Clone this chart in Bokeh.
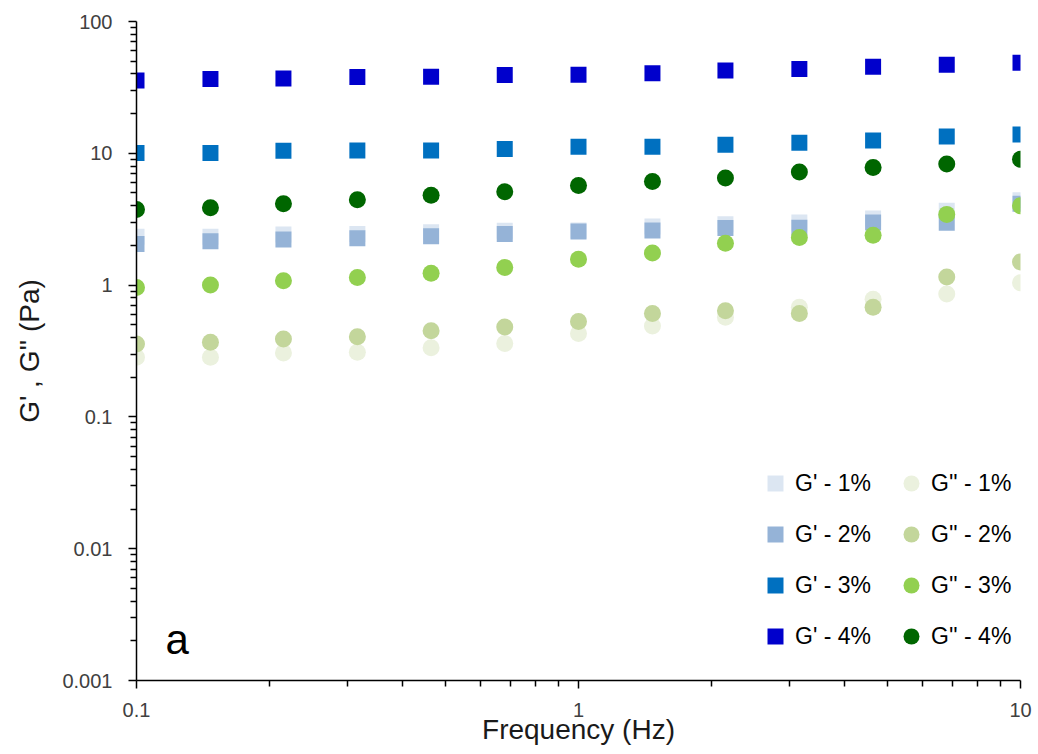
from bokeh.plotting import figure
from bokeh.models import (Range1d, FixedTicker, CustomJSTickFormatter, Legend,
                          LegendItem, Label, ColumnDataSource)
from bokeh.embed import file_html
from bokeh.resources import INLINE

# ---------------- data ----------------
freq = [0.1, 0.147, 0.215, 0.316, 0.464, 0.681, 1.0, 1.47, 2.15, 3.16, 4.64, 6.81, 10.0]

g1_1 = [2.33, 2.33, 2.42, 2.44, 2.52, 2.59, 2.60, 2.78, 2.90, 2.99, 3.20, 3.67, 4.40]
g1_2 = [2.05, 2.15, 2.22, 2.27, 2.35, 2.44, 2.55, 2.60, 2.71, 2.72, 2.99, 2.97, 4.15]
g1_3 = [10.05, 10.05, 10.45, 10.5, 10.5, 10.8, 11.2, 11.2, 11.6, 12.0, 12.5, 13.4, 13.9]
g1_4 = [35.6, 36.6, 36.9, 38.0, 38.1, 39.3, 39.4, 40.5, 42.4, 43.6, 45.3, 46.9, 48.7]

g2_1 = [0.284, 0.284, 0.306, 0.31, 0.335, 0.36, 0.43, 0.49, 0.57, 0.68, 0.78, 0.855, 1.04]
g2_2 = [0.358, 0.369, 0.39, 0.405, 0.45, 0.48, 0.53, 0.61, 0.64, 0.61, 0.68, 1.15, 1.50]
g2_3 = [0.96, 1.00, 1.08, 1.14, 1.23, 1.36, 1.57, 1.75, 2.08, 2.30, 2.39, 3.44, 4.00]
g2_4 = [3.75, 3.87, 4.15, 4.45, 4.80, 5.10, 5.70, 6.10, 6.50, 7.20, 7.80, 8.30, 9.00]

series_names_g1 = ["G' - 1%", "G' - 2%", "G' - 3%", "G' - 4%"]
series_names_g2 = ["G'' - 1%", "G'' - 2%", "G'' - 3%", "G'' - 4%"]
colors_g1 = ["#DCE6F2", "#95B3D7", "#0070C0", "#0000CC"]
colors_g2 = ["#EBF1DE", "#C3D69B", "#92D050", "#006600"]

x_ticks = [0.1, 1, 10]
x_labels = ["0.1", "1", "10"]
y_ticks = [0.001, 0.01, 0.1, 1, 10, 100]
y_labels = ["0.001", "0.01", "0.1", "1", "10", "100"]

x_title = "Frequency (Hz)"
y_title = "G' , G'' (Pa)"
panel_tag = "a"

# ---------------- figure ----------------
p = figure(width=1032, height=748, x_axis_type="log", y_axis_type="log",
           x_range=Range1d(0.1, 10), y_range=Range1d(0.001, 100),
           output_backend="svg", toolbar_location=None,
           min_border_left=136, min_border_right=12, min_border_top=21,
           min_border_bottom=68)
p.outline_line_color = None
p.xgrid.visible = False
p.ygrid.visible = False
p.background_fill_color = "white"
p.border_fill_color = "white"


def minor_between(ticks):
    out = []
    for t in ticks[:-1]:
        out += [t * k for k in range(2, 10)]
    return out


fmt_code = """
const i = tvals.findIndex(t => Math.abs(Math.log10(t) - Math.log10(tick)) < 1e-6);
return i >= 0 ? tlabels[i] : '';
"""

p.xaxis.ticker = FixedTicker(ticks=x_ticks, minor_ticks=minor_between(x_ticks))
p.xaxis.formatter = CustomJSTickFormatter(args=dict(tvals=x_ticks, tlabels=x_labels), code=fmt_code)
p.yaxis.ticker = FixedTicker(ticks=y_ticks, minor_ticks=minor_between(y_ticks))
p.yaxis.formatter = CustomJSTickFormatter(args=dict(tvals=y_ticks, tlabels=y_labels), code=fmt_code)

for ax in (p.xaxis, p.yaxis):
    ax.axis_line_color = "#000000"
    ax.axis_line_width = 1.5
    ax.major_tick_line_color = "#000000"
    ax.major_tick_line_width = 1.5
    ax.minor_tick_line_color = "#000000"
    ax.minor_tick_line_width = 1.5
    ax.major_tick_in = 0
    ax.major_tick_out = 8
    ax.minor_tick_in = 0
    ax.minor_tick_out = 6
    ax.major_label_text_font = "Liberation Sans"
    ax.major_label_text_font_size = "20px"
    ax.major_label_text_color = "#404040"
    ax.axis_label_text_font = "Liberation Sans"
    ax.axis_label_text_font_size = "28px"
    ax.axis_label_text_font_style = "normal"
    ax.axis_label_text_color = "#1a1a1a"

p.xaxis.axis_label = x_title
p.yaxis.axis_label = y_title
p.xaxis.major_label_standoff = 14
p.xaxis.axis_label_standoff = -6
p.yaxis.major_label_standoff = 16
p.yaxis.axis_label_standoff = 14

# ---------------- glyphs ----------------
r_g1 = []
r_g2 = []
for i in range(4):
    src1 = ColumnDataSource(dict(x=freq, y=[g1_1, g1_2, g1_3, g1_4][i]))
    r = p.scatter("x", "y", source=src1, marker="square", size=16,
                  fill_color=colors_g1[i], line_color=None)
    r_g1.append(r)
    src2 = ColumnDataSource(dict(x=freq, y=[g2_1, g2_2, g2_3, g2_4][i]))
    r = p.scatter("x", "y", source=src2, marker="circle", size=17,
                  fill_color=colors_g2[i], line_color=None)
    r_g2.append(r)

items = [LegendItem(label=series_names_g1[i], renderers=[r_g1[i]]) for i in range(4)] + \
        [LegendItem(label=series_names_g2[i], renderers=[r_g2[i]]) for i in range(4)]

legend = Legend(items=items, ncols=2, location=(619, 24),
                glyph_width=40, glyph_height=40, label_standoff=-6,
                spacing=11, padding=0, margin=0, label_width=85,
                label_text_font="Liberation Sans", label_text_font_size="23px",
                label_text_color="#000000",
                border_line_color=None, background_fill_alpha=0)
p.add_layout(legend, "center")

p.add_layout(Label(x=29, y=18, x_units="screen", y_units="screen", text=panel_tag,
                   text_font="Liberation Sans", text_font_size="42px",
                   text_color="#000000"))

open("out.html", "w").write(file_html(p, INLINE))
